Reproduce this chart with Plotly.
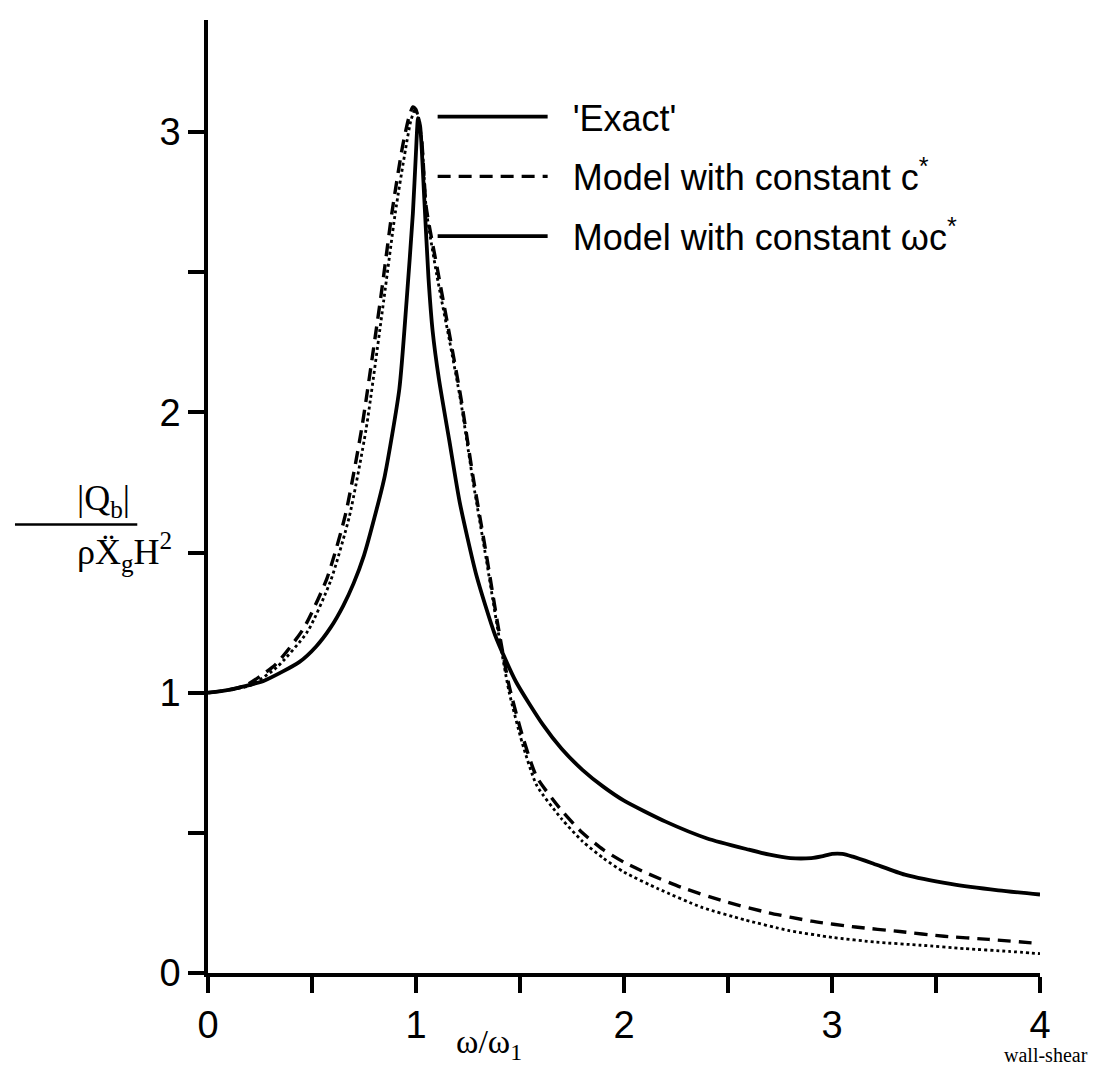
import plotly.graph_objects as go

# ---- data ----
exact_x = [0, 0.1, 0.27, 0.44, 0.52, 0.59, 0.65, 0.70, 0.75, 0.80, 0.85, 0.92, 0.955, 0.985, 1.0, 1.01, 1.02,
           1.04, 1.06, 1.08, 1.11, 1.16, 1.21, 1.29, 1.38, 1.48, 1.61, 1.7, 1.8, 1.9, 2.0, 2.2, 2.4,
           2.6, 2.7, 2.8, 2.9, 2.95, 3.0, 3.05, 3.1, 3.2, 3.35, 3.57, 3.8, 4.0]
exact_y = [1.0, 1.01, 1.043, 1.11, 1.165, 1.233, 1.31, 1.39, 1.49, 1.624, 1.774, 2.084, 2.40, 2.71, 2.93, 3.05, 3.02,
           2.76, 2.48, 2.29, 2.12, 1.90, 1.68, 1.42, 1.206, 1.04, 0.886, 0.80, 0.725, 0.665, 0.615, 0.54, 0.48,
           0.44, 0.422, 0.41, 0.41, 0.416, 0.425, 0.425, 0.415, 0.39, 0.351, 0.318, 0.295, 0.28]

cstar_x = [0, 0.1, 0.184, 0.325, 0.46, 0.572, 0.661, 0.739, 0.83, 0.885, 0.935, 0.965, 0.985, 1.0,
           1.027, 1.049, 1.104, 1.16, 1.215, 1.275, 1.338, 1.391, 1.447, 1.511, 1.58, 1.7, 1.8,
           1.9, 2.0, 2.113, 2.278, 2.485, 2.695, 2.901, 3.113, 3.326, 3.539, 3.753, 4.0]
cstar_y = [1.0, 1.01, 1.027, 1.101, 1.23, 1.408, 1.636, 1.943, 2.407, 2.716, 2.948, 3.05, 3.09, 3.08,
           2.971, 2.733, 2.507, 2.282, 2.056, 1.767, 1.494, 1.253, 1.027, 0.848, 0.70, 0.58, 0.50,
           0.44, 0.395, 0.355, 0.305, 0.255, 0.215, 0.185, 0.164, 0.148, 0.131, 0.12, 0.105]

wcstar_x = [0, 0.1, 0.2, 0.33, 0.48, 0.59, 0.68, 0.76, 0.845, 0.9, 0.95, 0.975, 0.995, 1.01,
            1.03, 1.05, 1.1, 1.16, 1.215, 1.275, 1.338, 1.391, 1.447, 1.511, 1.58, 1.7, 1.8,
            1.9, 2.0, 2.166, 2.371, 2.579, 2.789, 3.001, 3.214, 3.428, 3.637, 3.851, 4.0]
wcstar_y = [1.0, 1.01, 1.025, 1.09, 1.22, 1.40, 1.63, 1.94, 2.40, 2.71, 2.94, 3.04, 3.08, 3.06,
            2.95, 2.72, 2.49, 2.26, 2.04, 1.75, 1.475, 1.235, 1.005, 0.82, 0.67, 0.55, 0.47,
            0.41, 0.36, 0.30, 0.235, 0.19, 0.152, 0.127, 0.11, 0.099, 0.087, 0.077, 0.069]

x_tickvals = [0, 1, 2, 3, 4]
x_ticktext = ["0", "1", "2", "3", "4"]
x_minorvals = [0.5, 1.5, 2.5, 3.5]
y_tickvals = [0, 1, 2, 3]
y_ticktext = ["0", "1", "2", "3"]
y_minorvals = [0.5, 1.5, 2.5]

names = ["\u00a0\u00a0'Exact'",
         "\u00a0\u00a0Model with constant c<sup>*</sup>",
         "\u00a0\u00a0Model with constant \u03c9c<sup>*</sup>"]

SANS = "Liberation Sans, Arial, sans-serif"
SERIF = "Liberation Serif, Times New Roman, serif"

fig = go.Figure()
fig.add_trace(go.Scatter(x=exact_x, y=exact_y, mode="lines", name=names[0],
                         line=dict(color="black", width=3.8, shape="spline", smoothing=0.6),
                         legendgroup="a"))
fig.add_trace(go.Scatter(x=cstar_x, y=cstar_y, mode="lines", name=names[1],
                         line=dict(color="black", width=3.4, dash="13px,8px", shape="spline", smoothing=0.6),
                         legendgroup="b"))
fig.add_trace(go.Scatter(x=wcstar_x, y=wcstar_y, mode="lines", name=names[2], showlegend=False,
                         line=dict(color="black", width=2.8, dash="dot", shape="spline", smoothing=0.6),
                         legendgroup="c"))
# legend entry for the third model (drawn solid in the reference key)
fig.add_trace(go.Scatter(x=[None], y=[None], mode="lines", name=names[2],
                         line=dict(color="black", width=3.8), legendgroup="c"))

tick_common = dict(showgrid=False, zeroline=False, showline=True,
                   linecolor="black", linewidth=3.5, ticks="outside", ticklen=16, tickwidth=3.5,
                   tickcolor="black", tickfont=dict(size=38, family=SANS))

fig.update_layout(
    width=1097, height=1065,
    margin=dict(l=200, r=65, t=12, b=100),
    paper_bgcolor="white", plot_bgcolor="white",
    font=dict(family=SANS, color="black"),
    legend=dict(x=0.27, y=0.93, xanchor="left", yanchor="top",
                font=dict(size=36, family=SANS, color="black"),
                bgcolor="rgba(0,0,0,0)", itemwidth=110, tracegroupgap=10,
                traceorder="grouped"),
    xaxis=dict(range=[0, 4], tickvals=x_tickvals, ticktext=x_ticktext,
               minor=dict(tickvals=x_minorvals, ticks="outside", ticklen=16, tickwidth=3.5,
                          tickcolor="black", showgrid=False),
               **tick_common),
    yaxis=dict(range=[0, 3.4], tickvals=y_tickvals, ticktext=y_ticktext,
               minor=dict(tickvals=y_minorvals, ticks="outside", ticklen=16, tickwidth=3.5,
                          tickcolor="black", showgrid=False),
               **tick_common),
)

# axis titles
fig.add_annotation(xref="x", yref="paper", x=1.35, y=-0.099, yanchor="bottom",
                   text="\u03c9/\u03c9<sub>1</sub>", showarrow=False,
                   font=dict(size=34, family=SERIF))
fig.add_annotation(xref="paper", yref="y", x=-0.16, y=1.6, yanchor="bottom",
                   text="|Q<sub>b</sub>|", showarrow=False,
                   font=dict(size=36, family=SERIF))
fig.add_annotation(xref="paper", yref="y", x=-0.16, y=1.6, yanchor="top",
                   text="\u03c1X\u0308<sub>g</sub>H<sup>2</sup>", showarrow=False,
                   font=dict(size=36, family=SERIF))
fig.add_shape(type="line", xref="paper", yref="y", x0=-0.232, x1=-0.085, y0=1.6, y1=1.6,
              line=dict(color="black", width=2.5))

# fragment of the book caption at the bottom edge
fig.add_annotation(xref="paper", yref="paper", x=1.06, y=-0.1, xanchor="right", yanchor="bottom",
                   text="wall-shear", showarrow=False,
                   font=dict(size=20, family=SERIF))

fig.write_html("out.html")
